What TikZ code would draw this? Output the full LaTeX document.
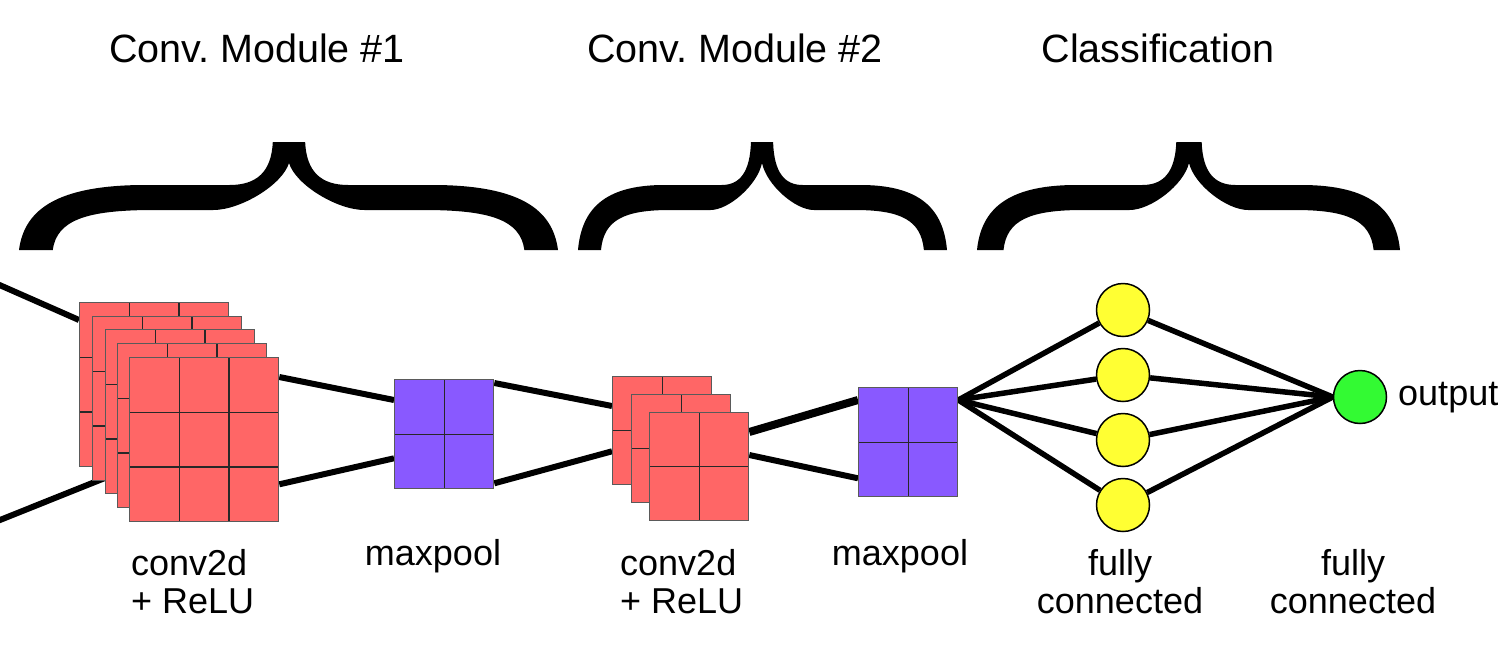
\documentclass[tikz,border=0pt]{standalone}
\usepackage{fontspec}
\setmainfont{Liberation Sans}
\usetikzlibrary{calc}
\pgfdeclarelayer{bg}
\pgfsetlayers{bg,main}
\definecolor{convred}{RGB}{255,102,102}
\definecolor{poolpurple}{RGB}{137,89,255}
\definecolor{fcyellow}{RGB}{255,255,51}
\definecolor{outgreen}{RGB}{51,250,51}
\definecolor{gridgray}{RGB}{90,90,90}
\definecolor{gridline}{RGB}{40,40,40}
\newcommand{\halfbrace}[2]{%
  \fill[shift={(#1,0)}, xscale=#2]
    (0,250) .. controls (0.02,208) and (0.15,186) .. (0.45,185)
    -- (0.78,185) .. controls (0.88,185) and (0.935,172) .. (0.94,142)
    -- (1.005,142) -- (1.005,163) -- (1,163)
    .. controls (0.975,185) and (0.82,210) .. (0.72,210)
    -- (0.5,210) .. controls (0.25,210) and (0.14,220) .. (0.125,250)
    -- cycle;}
\tikzset{
  gridln/.style={draw=gridline, line width=1.3pt},
  grid3/.style={path picture={
    \foreach \f in {0.3333,0.6667}{
      \draw[gridln] ($(path picture bounding box.north west)!\f!(path picture bounding box.north east)$) -- ($(path picture bounding box.south west)!\f!(path picture bounding box.south east)$);
      \draw[gridln] ($(path picture bounding box.north west)!\f!(path picture bounding box.south west)$) -- ($(path picture bounding box.north east)!\f!(path picture bounding box.south east)$);
    }}},
  grid2/.style={path picture={
      \draw[gridln] ($(path picture bounding box.north west)!0.5!(path picture bounding box.north east)$) -- ($(path picture bounding box.south west)!0.5!(path picture bounding box.south east)$);
      \draw[gridln] ($(path picture bounding box.north west)!0.5!(path picture bounding box.south west)$) -- ($(path picture bounding box.north east)!0.5!(path picture bounding box.south east)$);
    }},
  layerbox/.style={rectangle, draw=gridgray, line width=1.3pt, inner sep=0pt, anchor=north west},
  conv3/.style={layerbox, fill=convred, minimum width=149pt, minimum height=164pt, grid3},
  conv2/.style={layerbox, fill=convred, minimum width=99pt, minimum height=108pt, grid2},
  pool/.style={layerbox, fill=poolpurple, minimum width=99pt, minimum height=109pt, grid2},
  neuron/.style={circle, draw=black, line width=1.5pt, minimum size=53pt, inner sep=0pt},
  conn/.style={draw=black, line width=6pt},
  fcconn/.style={draw=black, line width=5.5pt},
  header/.style={font=\fontsize{39.5}{47}\selectfont, inner sep=0pt, anchor=base},
  label/.style={font=\fontsize{36}{42}\selectfont, inner sep=0pt},
}
\frenchspacing
\begin{document}
\begin{tikzpicture}[x=1pt,y=-1pt]
\useasboundingbox (0,0) rectangle (1502,664);

% headers
\node[header] (h1) at (257,62) {Conv. Module \#1};
\node[header] (h2) at (735,62) {Conv. Module \#2};
\node[header] (h3) at (1158,62) {Classification};

% braces
\halfbrace{19}{270}
\halfbrace{558}{-269}
\halfbrace{578}{184}
\halfbrace{947}{-185}
\halfbrace{977}{212}
\halfbrace{1400}{-211}

% conv module 1
\node[conv3] (c1a) at (79,302) {};
\node[conv3] (c1b) at (92,316) {};
\node[conv3] (c1c) at (105,329) {};
\node[conv3] (c1d) at (117,343) {};
\node[conv3] (c1e) at (129,357) {};
\node[pool] (mp1) at (394,379) {};

% conv module 2
\node[conv2] (c2a) at (612,376) {};
\node[conv2] (c2b) at (631,394) {};
\node[conv2] (c2c) at (649,412) {};
\node[pool] (mp2) at (858,387) {};

% classification
\node[neuron, fill=fcyellow] (y1) at (1123,310) {};
\node[neuron, fill=fcyellow] (y2) at (1123,375) {};
\node[neuron, fill=fcyellow] (y3) at (1123,440) {};
\node[neuron, fill=fcyellow] (y4) at (1123,505) {};
\node[neuron, fill=outgreen] (g) at (1360,397) {};

% free ends of the input lines
\coordinate (in1) at (-5,283);
\coordinate (in2) at (-5,522);

% connectors
\begin{pgfonlayer}{bg}
\draw[conn] (in1) -- ([yshift=-18pt]c1a.north west);
\draw[conn] (in2) -- ([yshift=54pt]c1e.south west);
\draw[conn] ([yshift=-20pt]c1e.north east) -- ([yshift=-21pt]mp1.north west);
\draw[conn] ([yshift=38pt]c1e.south east) -- ([yshift=31pt]mp1.south west);
\draw[conn] ([yshift=-4pt]mp1.north east) -- ([yshift=-30pt]c2a.north west);
\draw[conn] ([yshift=6pt]mp1.south east) -- ([yshift=34pt]c2a.south west);
\draw[conn, line width=8pt] ([yshift=-20pt]c2c.north east) -- ([yshift=-13pt]mp2.north west);
\draw[conn] ([yshift=-43pt]c2c.north east) -- ([yshift=19pt]mp2.south west);
\foreach \n in {y1,y2,y3,y4}{
  \draw[fcconn] ([yshift=-13pt]mp2.north east) -- (\n);
  \draw[fcconn] (\n) -- (g.west);
}
\end{pgfonlayer}

% labels
\node[label, anchor=base west] (l1a) at (131,575) {conv2d};
\node[label, anchor=base west] (l1b) at (131,613) {+ ReLU};
\node[label, anchor=base] (l2) at (433,565) {maxpool};
\node[label, anchor=base west] (l3a) at (620,575) {conv2d};
\node[label, anchor=base west] (l3b) at (620,613) {+ ReLU};
\node[label, anchor=base] (l4) at (900,565) {maxpool};
\node[label, anchor=base] (l5a) at (1120,575) {fully};
\node[label, anchor=base] (l5b) at (1120,613) {connected};
\node[label, anchor=base] (l6a) at (1353,575) {fully};
\node[label, anchor=base] (l6b) at (1353,613) {connected};
\node[label, anchor=base west] (out) at (1398,405) {output};
\end{tikzpicture}
\end{document}
